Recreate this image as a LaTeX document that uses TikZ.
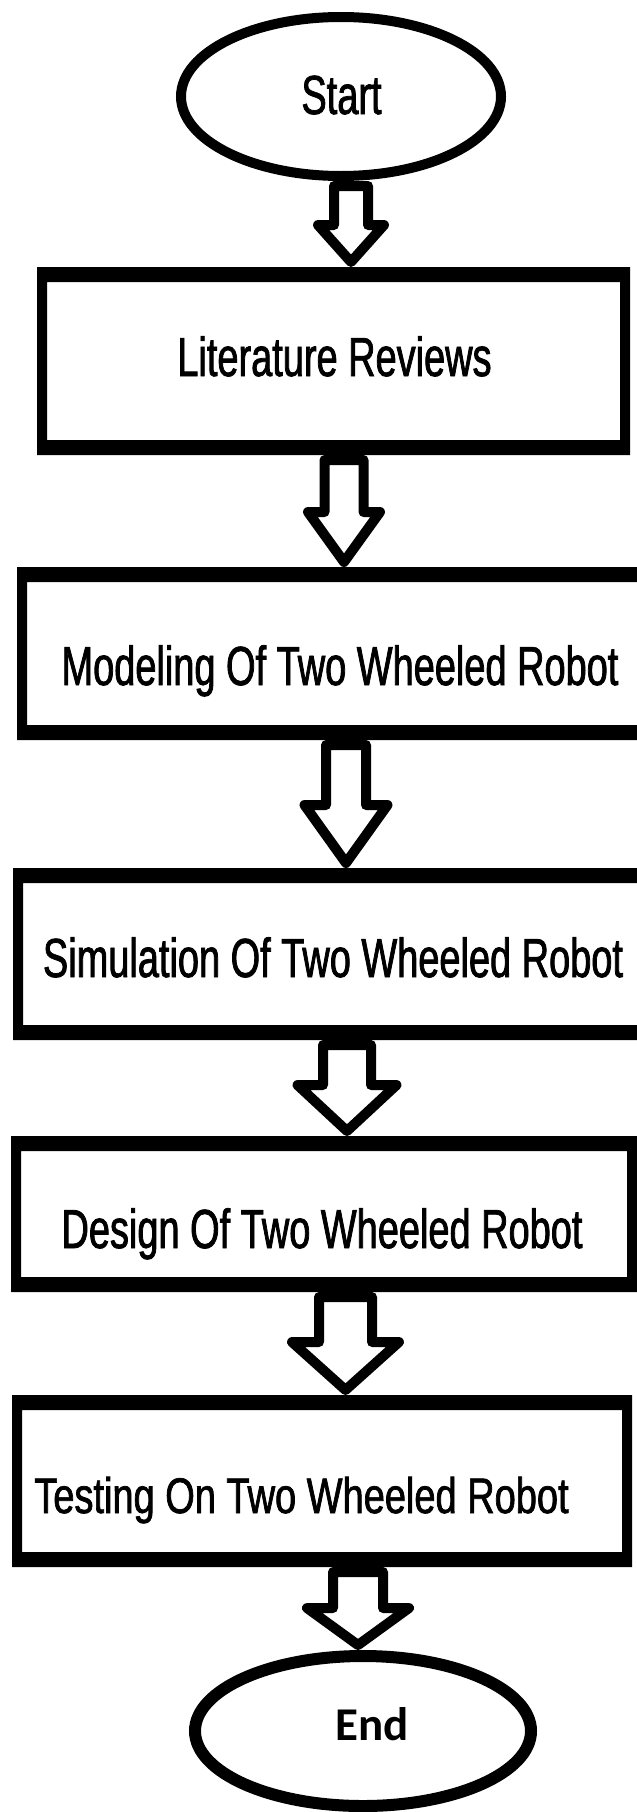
\documentclass[tikz,border=0pt]{standalone}
\usepackage{fontspec}
\usetikzlibrary{shapes.geometric,calc}
\newfontfamily\flowfont{Liberation Sans}[FakeStretch=0.69, FakeBold=1.4]
\newfontfamily\flowfontwide{Liberation Sans}[FakeStretch=0.76, FakeBold=1.4]
\newfontfamily\endfont{Carlito}

\tikzset{
  stepbox/.style={rectangle, inner sep=0pt, outer sep=0pt},
  terminal/.style={ellipse, draw=black, inner sep=0pt},
  lbl/.style={anchor=base, inner sep=0pt, text=black, font=\flowfont\fontsize{55}{60}\selectfont},
  hollowarrow/.style={draw=black, line width=10pt, line join=round},
}

% thick frame: 10 units on the sides, 15 units on top and bottom
\newcommand\stepframe[1]{%
  \fill[black, even odd rule] (#1.north west) rectangle (#1.south east)
    ($(#1.north west)+(10,15)$) rectangle ($(#1.south east)+(-10,-15)$);}

% hollow block arrow: from, to, axis x, stem half width, head half width, shoulder y
\newcommand\flowarrow[6]{%
  \draw[hollowarrow]
    ($(#3,0 |- #1.south)+(-#4,5)$) -- (#3-#4,#6) -- (#3-#5,#6)
    -- ($(#3,0 |- #2.north)+(0,-5)$)
    -- (#3+#5,#6) -- (#3+#4,#6) -- ($(#3,0 |- #1.south)+(#4,5)$) -- cycle;}

\begin{document}
\begin{tikzpicture}[x=1pt,y=-1pt]
\useasboundingbox (0,0) rectangle (637,1812);
\clip (0,0) rectangle (637,1812);

% terminals
\node[terminal, line width=10pt, minimum width=320pt, minimum height=159pt] (start) at (341,96.5) {};
\node[terminal, line width=12pt, minimum width=336pt, minimum height=150pt] (end) at (363,1731) {};

% process boxes
\node[stepbox, minimum width=593pt, minimum height=188pt] (lit) at (333.5,361) {};
\node[stepbox, minimum width=630pt, minimum height=173pt] (model) at (332,653.5) {};
\node[stepbox, minimum width=634pt, minimum height=172pt] (sim) at (330,954) {};
\node[stepbox, minimum width=626pt, minimum height=156pt] (design) at (324,1214) {};
\node[stepbox, minimum width=620pt, minimum height=172pt] (test) at (322,1481) {};
\stepframe{lit}
\stepframe{model}
\stepframe{sim}
\stepframe{design}
\stepframe{test}

% labels
\node[lbl] (start-t) at (341.5,114) {Start};
\node[lbl] (lit-t) at (334.5,376) {Literature Reviews};
\node[lbl] (model-t) at (340,685) {Modeling Of Two Wheeled Robot};
\node[lbl] (sim-t) at (333,977) {Simulation Of Two Wheeled Robot};
\node[lbl] (design-t) at (322,1248) {Design Of Two Wheeled Robot};
\node[lbl, font=\flowfontwide\fontsize{50}{55}\selectfont] (test-t) at (301.5,1513) {Testing On Two Wheeled Robot};
\node[lbl, font=\endfont\bfseries\fontsize{47}{50}\selectfont] (end-t) at (372,1740) {End};

% connectors
\flowarrow{start}{lit}{351}{17}{33}{225}
\flowarrow{lit}{model}{344}{19.5}{36}{512}
\flowarrow{model}{sim}{346}{20}{41.5}{805}
\flowarrow{sim}{design}{347}{24}{49.5}{1085}
\flowarrow{design}{test}{345.5}{26.5}{53.5}{1342}
\flowarrow{test}{end}{358}{25}{51}{1608}
\end{tikzpicture}
\end{document}
